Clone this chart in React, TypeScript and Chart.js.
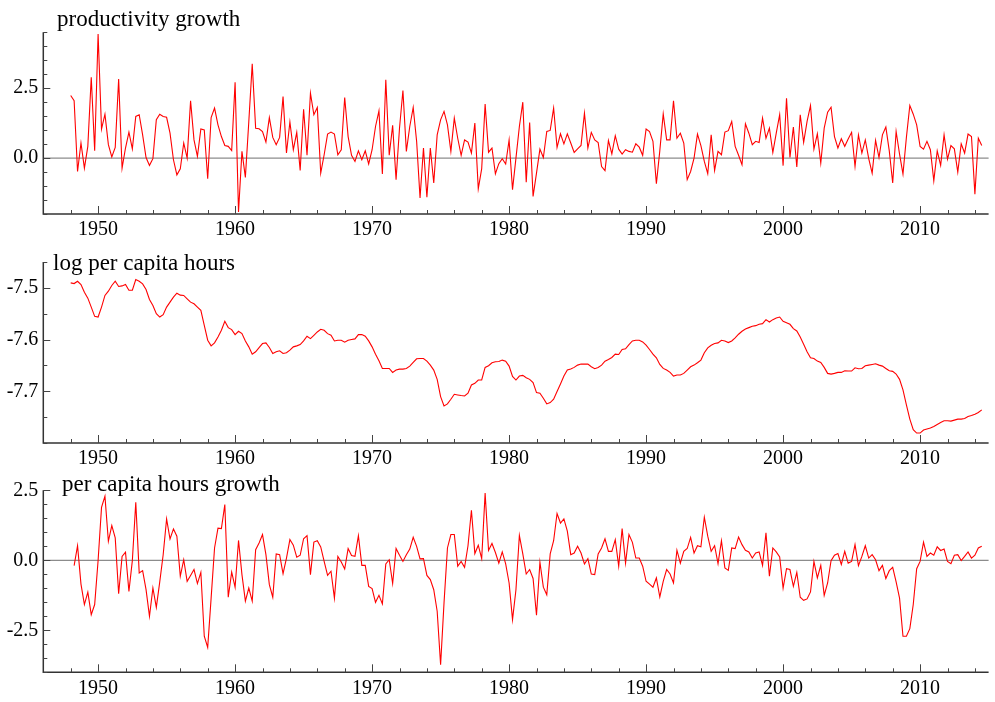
import React, { useEffect, useRef } from "react";
import { Chart, registerables } from "chart.js";

Chart.register(...registerables);

// ---------------- data ----------------
const prodStart = 1948.0;
const hoursStart = 1948.0;
const growthStart = 1948.25;
const quarterStep = 0.25;

const prodGrowth = [
  2.24, 2.05, -0.48, 0.54, -0.36, 0.42, 2.89, 0.26, 4.44, 1.04, 1.57, 0.48, 0.04, 0.38, 2.83, -0.36,
  0.36, 0.93, 0.33, 1.49, 1.55, 0.83, 0.02, -0.26, -0.02, 1.37, 1.57, 1.49, 1.46, 0.89, -0.06, -0.6,
  -0.38, 0.54, 0.0, 2.05, 0.65, 0.06, 1.04, 1.01, -0.74, 1.45, 1.79, 1.19, 0.77, 0.45, 0.42, 0.27,
  2.71, -1.93, 0.24, -0.69, 1.3, 3.37, 1.07, 1.05, 0.95, 0.57, 1.45, 0.74, 0.48, 0.74, 2.2, 0.18,
  1.29, 0.3, 0.92, -0.44, 1.75, 0.1, 2.32, 1.55, 1.81, -0.54, 0.12, 0.86, 0.93, 0.86, 0.12, 0.3,
  2.17, 0.77, 0.1, -0.12, 0.26, -0.06, 0.26, -0.21, 0.3, 1.13, 1.69, -0.57, 2.8, 0.1, 1.17, -0.77,
  1.07, 2.42, 0.24, 1.13, 1.81, 0.6, -1.43, 0.36, -1.4, 0.36, -0.89, 0.83, 1.37, 1.67, 1.19, 0.24,
  1.43, 0.71, 0.1, 0.65, 0.57, 0.18, 1.25, -1.1, -0.38, 1.93, 0.21, 0.36, -0.56, -0.2, -0.02, -0.21,
  0.65, -1.13, 0.0, 1.13, 2.0, -0.86, 1.27, -1.37, -0.54, 0.32, 0.02, 0.95, 0.99, 1.79, 0.38, 0.87,
  0.51, 0.87, 0.54, 0.2, 0.33, 0.45, 1.61, 0.36, 0.92, 0.65, 0.56, -0.3, -0.45, 0.63, 0.15, 0.8,
  0.32, 0.14, 0.3, 0.24, 0.21, 0.51, 0.39, 0.1, 1.04, 0.95, 0.6, -0.92, 0.26, 1.58, 0.65, 0.65,
  2.05, 0.71, 0.89, 0.54, -0.77, -0.48, 0.0, 0.86, 0.45, -0.12, -0.56, 0.83, -0.44, 0.24, 0.12, 0.93,
  0.98, 1.31, 0.42, 0.1, -0.24, 1.23, 0.89, 0.48, 0.6, 0.56, 1.43, 0.71, 1.07, 0.2, 0.89, 1.55,
  -0.27, 2.14, 0.02, 1.11, -0.32, 1.55, 0.56, 1.31, 1.88, 0.32, 0.87, -0.18, 1.07, 1.64, 1.82, 0.77,
  0.36, 0.69, 0.42, 0.68, 0.92, -0.3, 0.83, 0.18, 0.65, -0.02, -0.54, 0.63, 0.02, 0.83, 1.11, 0.26,
  -0.89, 0.95, 0.14, -0.57, 0.74, 1.88, 1.57, 1.19, 0.42, 0.32, 0.6, 0.3, -0.81, 0.26, -0.26, 0.83,
  -0.04, 0.45, 0.33, -0.5, 0.51, 0.18, 0.86, 0.77, -1.29, 0.71, 0.45,
];

const logHours = [
  -7.4904, -7.4917, -7.4872, -7.4936, -7.5083, -7.5199, -7.5372, -7.5551, -7.5564, -7.5372, -7.5147, -7.5064,
  -7.4955, -7.4872, -7.4974, -7.4962, -7.4936, -7.5045, -7.5045, -7.484, -7.4872, -7.4923, -7.5032, -7.5224,
  -7.534, -7.55, -7.5564, -7.5519, -7.5372, -7.5276, -7.5179, -7.5103, -7.5141, -7.5147, -7.5212, -7.5276,
  -7.5308, -7.5372, -7.5436, -7.5724, -7.6013, -7.6122, -7.6064, -7.5949, -7.5821, -7.5647, -7.5769, -7.5808,
  -7.5904, -7.584, -7.5885, -7.6026, -7.6141, -7.6282, -7.6237, -7.6154, -7.6077, -7.6064, -7.6154, -7.6269,
  -7.6237, -7.6218, -7.6269, -7.6256, -7.6205, -7.6141, -7.6122, -7.6096, -7.6026, -7.5936, -7.5981, -7.5917,
  -7.5853, -7.5801, -7.5821, -7.5885, -7.5917, -7.6026, -7.6013, -7.6013, -7.6051, -7.6013, -7.6, -7.5987,
  -7.5904, -7.5904, -7.5936, -7.6026, -7.6141, -7.6282, -7.641, -7.6558, -7.6558, -7.6558, -7.6635, -7.659,
  -7.6571, -7.6571, -7.6558, -7.6513, -7.6442, -7.6372, -7.6365, -7.6365, -7.6417, -7.6494, -7.659, -7.6769,
  -7.7103, -7.7282, -7.7244, -7.7154, -7.7058, -7.7071, -7.7083, -7.709, -7.7038, -7.6878, -7.6846, -7.6782,
  -7.6782, -7.6538, -7.6506, -7.6449, -7.6429, -7.6423, -7.6397, -7.6417, -7.6513, -7.6712, -7.6782, -7.6705,
  -7.6692, -7.6737, -7.6769, -7.6833, -7.7026, -7.7038, -7.7135, -7.7244, -7.7218, -7.7154, -7.7006, -7.6859,
  -7.6705, -7.659, -7.6571, -7.6538, -7.6494, -7.6474, -7.6474, -7.6474, -7.6526, -7.6564, -7.6538, -7.6494,
  -7.6417, -7.6385, -7.6346, -7.6282, -7.6288, -7.6192, -7.6179, -7.6096, -7.6026, -7.6013, -7.6013, -7.6045,
  -7.6109, -7.6192, -7.6282, -7.6353, -7.6481, -7.6558, -7.659, -7.6635, -7.6705, -7.6686, -7.6686, -7.6654,
  -7.659, -7.6526, -7.6494, -7.6449, -7.6397, -7.6256, -7.616, -7.6109, -7.6077, -7.6064, -7.6013, -7.6026,
  -7.6058, -7.6026, -7.5968, -7.5897, -7.584, -7.5795, -7.5769, -7.5744, -7.5731, -7.5705, -7.5692, -7.5615,
  -7.566, -7.5615, -7.5583, -7.5564, -7.5647, -7.5673, -7.5705, -7.5788, -7.5833, -7.5949, -7.609, -7.6237,
  -7.6353, -7.6365, -7.6417, -7.6442, -7.6538, -7.6654, -7.6667, -7.6654, -7.6635, -7.6635, -7.6603, -7.6609,
  -7.6609, -7.6545, -7.6564, -7.6558, -7.6506, -7.6494, -7.6481, -7.6468, -7.6494, -7.6513, -7.6558, -7.6603,
  -7.6615, -7.6667, -7.6769, -7.6974, -7.7263, -7.7538, -7.7744, -7.7808, -7.7808, -7.775, -7.7731, -7.7712,
  -7.7679, -7.7641, -7.7603, -7.7571, -7.7571, -7.7577, -7.7558, -7.7538, -7.7538, -7.7526, -7.7487, -7.7468,
  -7.7442, -7.741, -7.7359,
];

const hoursGrowth = [
  -0.19, 0.52, -0.85, -1.58, -1.14, -1.94, -1.58, -0.01, 1.89, 2.29, 0.68, 1.24, 0.8, -1.19, 0.14,
  0.29, -1.11, -0.01, 2.07, -0.45, -0.37, -1.05, -2.0, -0.99, -1.68, -0.77, 0.2, 1.48, 0.76, 1.12, 0.86,
  -0.57, 0.02, -0.75, -0.54, -0.33, -0.83, -0.43, -2.71, -3.11, -1.35, 0.44, 1.15, 1.13, 1.99, -1.32,
  -0.42, -0.96, 0.71, -0.51, -1.46, -0.99, -1.46, 0.38, 0.62, 0.92, 0.2, -0.87, -1.32, 0.23, 0.2,
  -0.48, 0.08, 0.74, 0.54, 0.11, 0.18, 0.77, 0.88, -0.51, 0.65, 0.7, 0.48, -0.04, -0.54, -0.39, -1.35,
  0.14, -0.06, -0.31, 0.42, 0.17, 0.14, 0.88, -0.18, -0.18, -0.93, -1.01, -1.5, -1.25, -1.56, -0.13,
  0.02, -0.83, 0.42, 0.18, -0.04, 0.2, 0.4, 0.82, 0.5, 0.05, 0.06, -0.54, -0.69, -1.05, -1.82, -3.73,
  -1.52, 0.44, 0.92, 0.92, -0.21, -0.04, -0.25, 0.52, 1.79, 0.24, 0.54, 0.06, 2.4, 0.35, 0.6, 0.28,
  -0.1, 0.3, -0.13, -0.81, -2.12, -1.05, 0.89, 0.23, -0.49, -0.33, -0.65, -1.96, -0.07, -0.96, -1.23,
  0.23, 0.7, 1.67, 1.33, 1.48, 1.04, 0.2, 0.26, 0.5, 0.26, -0.13, 0.06, -0.49, -0.51, 0.23, 0.44, 0.77,
  0.32, 0.32, 0.74, -0.21, 1.13, -0.1, 0.92, 0.64, 0.08, 0.08, -0.21, -0.75, -0.85, -0.96, -0.63, -1.31,
  -0.75, -0.33, -0.49, -0.81, 0.36, -0.1, 0.32, 0.42, 0.82, 0.26, 0.52, 0.48, 1.54, 0.86, 0.32, 0.52,
  -0.12, 0.7, -0.27, -0.36, 0.44, 0.42, 0.83, 0.56, 0.36, 0.3, 0.08, 0.26, 0.3, -0.18, 0.98, -0.57,
  0.44, 0.3, 0.12, -0.99, -0.3, -0.33, -0.93, -0.43, -1.32, -1.43, -1.38, -1.13, -0.04, -0.63, -0.18,
  -1.25, -0.81, -0.01, 0.18, 0.24, -0.15, 0.32, -0.1, -0.04, 0.56, -0.19, 0.14, 0.52, 0.08, 0.2, 0.02,
  -0.37, -0.18, -0.65, -0.37, -0.25, -0.77, -1.35, -2.71, -2.71, -2.44, -1.58, -0.3, -0.04, 0.65, 0.14,
  0.26, 0.18, 0.48, 0.35, 0.4, -0.04, -0.12, 0.18, 0.2, -0.01, 0.14, 0.3, 0.08, 0.18, 0.44, 0.5,
];

// axis ticks
const xMin = 1946;
const xMax = 2015;
const xMajorTicks = [1950, 1960, 1970, 1980, 1990, 2000, 2010];
const xMinorStep = 2;

const prodYTicks = [0, 2.5];
const hoursYTicks = [-7.5, -7.6, -7.7];
const growthYTicks = [2.5, 0, -2.5];

const titles = ["productivity growth", "log per capita hours", "per capita hours growth"];

// ---------------- layout ----------------
const W = 995;
const PLOT_LEFT = 43.3;
const PLOT_RIGHT = 988.6;
const SERIF = '"Liberation Serif", "Times New Roman", serif';

type PanelCfg = {
  title: string;
  values: number[];
  start: number;
  yMin: number;
  yMax: number;
  yTicks: number[];
  yMinor: number;
  decimals: number;
  zero: boolean;
  top: number;
  height: number;
  padTop: number;
  xAxisH: number;
  titleX: number;
  titleY: number;
};

const panels: PanelCfg[] = [
  {
    title: titles[0], values: prodGrowth, start: prodStart, yMin: -2, yMax: 4.5, yTicks: prodYTicks,
    yMinor: 0.5, decimals: 1, zero: true, top: 0, height: 240, padTop: 32.3, xAxisH: 26,
    titleX: 57, titleY: 26,
  },
  {
    title: titles[1], values: logHours, start: hoursStart, yMin: -7.8, yMax: -7.45, yTicks: hoursYTicks,
    yMinor: 0.05, decimals: 1, zero: false, top: 240, height: 228, padTop: 22, xAxisH: 25,
    titleX: 53, titleY: 30,
  },
  {
    title: titles[2], values: hoursGrowth, start: growthStart, yMin: -4, yMax: 2.5, yTicks: growthYTicks,
    yMinor: 0.5, decimals: 1, zero: true, top: 468, height: 234, padTop: 22.3, xAxisH: 29.7,
    titleX: 62, titleY: 23,
  },
];

function makePlugin(cfg: PanelCfg) {
  return {
    id: "econAxes",
    beforeDatasetsDraw(chart: any) {
      if (!cfg.zero) return;
      const { ctx, chartArea } = chart;
      const y = chart.scales.y.getPixelForValue(0);
      ctx.save();
      ctx.strokeStyle = "#8c8c8c";
      ctx.lineWidth = 1.2;
      ctx.beginPath();
      ctx.moveTo(chartArea.left, y);
      ctx.lineTo(chartArea.right, y);
      ctx.stroke();
      ctx.restore();
    },
    afterDraw(chart: any) {
      const { ctx, chartArea } = chart;
      const { left, right, top, bottom } = chartArea;
      const xs = chart.scales.x;
      const ys = chart.scales.y;
      ctx.save();
      ctx.strokeStyle = "#333";
      ctx.lineWidth = 1.5;
      ctx.beginPath();
      ctx.moveTo(left, top);
      ctx.lineTo(left, bottom);
      ctx.lineTo(right, bottom);
      ctx.stroke();

      ctx.lineWidth = 1;
      ctx.strokeStyle = "#444";
      ctx.beginPath();
      // y ticks
      const nY = Math.round((cfg.yMax - cfg.yMin) / cfg.yMinor);
      for (let i = 0; i <= nY; i++) {
        const v = cfg.yMin + i * cfg.yMinor;
        const isMajor = cfg.yTicks.some((t) => Math.abs(t - v) < 1e-6);
        const py = Math.round(ys.getPixelForValue(v)) + 0.5;
        ctx.moveTo(left, py);
        ctx.lineTo(left + (isMajor ? 7 : 4), py);
      }
      // x ticks
      for (let yr = xMin + xMinorStep; yr < xMax; yr += xMinorStep) {
        const isMajor = xMajorTicks.includes(yr);
        const px = Math.round(xs.getPixelForValue(yr)) + 0.5;
        ctx.moveTo(px, bottom);
        ctx.lineTo(px, bottom - (isMajor ? 8 : 4));
      }
      ctx.stroke();

      // title
      ctx.fillStyle = "#000";
      ctx.font = `23px ${SERIF}`;
      ctx.textAlign = "left";
      ctx.textBaseline = "alphabetic";
      ctx.fillText(cfg.title, cfg.titleX, cfg.titleY);
      ctx.restore();
    },
  };
}

function Panel({ cfg }: { cfg: PanelCfg }) {
  const ref = useRef<HTMLCanvasElement | null>(null);
  useEffect(() => {
    if (!ref.current) return;
    const data = cfg.values.map((v, i) => ({ x: cfg.start + i * quarterStep, y: v }));
    const chart = new Chart(ref.current, {
      type: "line",
      data: {
        datasets: [
          {
            data,
            borderColor: "#ff0000",
            borderWidth: 1.1,
            pointRadius: 0,
            tension: 0,
            fill: false,
          },
        ],
      },
      options: {
        responsive: false,
        animation: false,
        devicePixelRatio: 1,
        layout: { padding: { top: cfg.padTop, right: W - PLOT_RIGHT, left: 0, bottom: 0 } },
        plugins: { legend: { display: false }, tooltip: { enabled: false }, title: { display: false } },
        scales: {
          x: {
            type: "linear",
            min: xMin,
            max: xMax,
            grid: { display: false, drawTicks: false },
            border: { display: false },
            ticks: {
              color: "#000",
              font: { family: SERIF, size: 20 },
              padding: 4,
              maxRotation: 0,
              autoSkip: false,
              callback: (v: any) => String(v),
            },
            afterBuildTicks: (s: any) => {
              s.ticks = xMajorTicks.map((v) => ({ value: v }));
            },
            afterFit: (s: any) => {
              s.height = cfg.xAxisH;
            },
          },
          y: {
            type: "linear",
            min: cfg.yMin,
            max: cfg.yMax,
            grid: { display: false, drawTicks: false },
            border: { display: false },
            ticks: {
              color: "#000",
              font: { family: SERIF, size: 20 },
              padding: 5,
              autoSkip: false,
              callback: (v: any) => Number(v).toFixed(cfg.decimals),
            },
            afterBuildTicks: (s: any) => {
              s.ticks = cfg.yTicks.map((v) => ({ value: v }));
            },
            afterFit: (s: any) => {
              s.width = PLOT_LEFT;
            },
          },
        },
      },
      plugins: [makePlugin(cfg)],
    } as any);
    return () => chart.destroy();
  }, [cfg]);
  return (
    <canvas
      ref={ref}
      width={W}
      height={cfg.height}
      style={{ position: "absolute", left: 0, top: cfg.top, width: W, height: cfg.height, display: "block" }}
    />
  );
}

export default function App() {
  return (
    <div style={{ position: "absolute", left: 0, top: 0, width: W, height: 702, background: "#fff", overflow: "hidden" }}>
      {panels.map((p, i) => (
        <Panel key={i} cfg={p} />
      ))}
    </div>
  );
}
